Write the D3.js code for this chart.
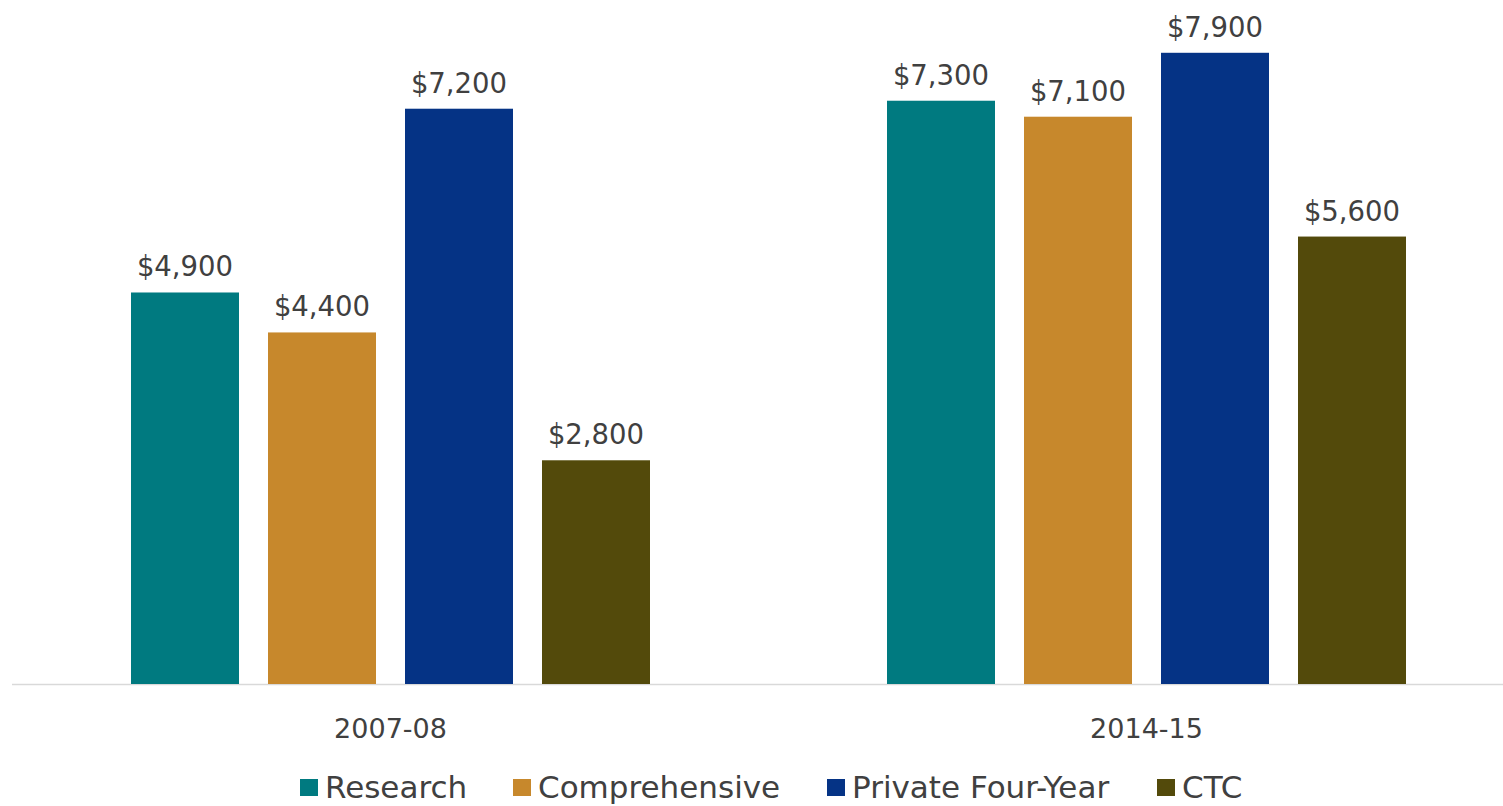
<!DOCTYPE html>
<html>
<head>
<meta charset="utf-8">
<script src="https://cdn.jsdelivr.net/npm/d3@7"></script>
<style>
  html, body { margin: 0; padding: 0; background: #fff; }
  svg { display: block; }
  text { font-family: "DejaVu Sans", sans-serif; fill: #404040; }
</style>
</head>
<body>
<svg id="chart" width="1503" height="806"></svg>
<script>
const categories = ["2007-08", "2014-15"];
const seriesNames = ["Research", "Comprehensive", "Private Four-Year", "CTC"];
const seriesColors = ["#007A80", "#C7882C", "#053385", "#534A0B"];
const valuesResearch = [4900, 7300];
const valuesComprehensive = [4400, 7100];
const valuesPrivate = [7200, 7900];
const valuesCTC = [2800, 5600];
const seriesValues = [valuesResearch, valuesComprehensive, valuesPrivate, valuesCTC];

const svg = d3.select("#chart");
const baseY = 684;

const x0 = d3.scaleBand().domain(categories).range([12.5, 1524.5]).padding(0);
const x1 = d3.scaleBand().domain(seriesNames).range([118.5, 637.5])
  .paddingInner(29 / 137).paddingOuter(0);
const y = d3.scaleLinear().domain([0, 8000]).range([baseY, baseY - 8000 * 0.0799]);

const fmt = v => "$" + d3.format(",")(v);

// axis line
svg.append("line")
  .attr("x1", 12).attr("x2", 1503)
  .attr("y1", baseY + 0.5).attr("y2", baseY + 0.5)
  .attr("stroke", "#d9d9d9").attr("stroke-width", 1.5);

const groups = svg.selectAll("g.cat").data(categories).enter().append("g")
  .attr("class", "cat")
  .attr("transform", d => `translate(${x0(d)},0)`);

groups.each(function(cat, ci) {
  const g = d3.select(this);
  seriesNames.forEach((s, si) => {
    const v = seriesValues[si][ci];
    g.append("rect")
      .attr("x", x1(s)).attr("width", x1.bandwidth())
      .attr("y", y(v)).attr("height", baseY - y(v))
      .attr("fill", seriesColors[si]);
    g.append("text")
      .attr("x", x1(s) + x1.bandwidth() / 2)
      .attr("y", y(v) - 16)
      .attr("text-anchor", "middle")
      .attr("font-size", 27.5)
      .text(fmt(v));
  });
});

// category axis labels
svg.selectAll("text.cat").data(categories).enter().append("text")
  .attr("class", "cat")
  .attr("x", d => x0(d) + x0.bandwidth() / 2)
  .attr("y", 738)
  .attr("text-anchor", "middle")
  .attr("font-size", 27)
  .text(d => d);

// legend
const legendX = [300, 513, 827, 1157];
const lg = svg.append("g");
seriesNames.forEach((s, i) => {
  lg.append("rect").attr("x", legendX[i]).attr("y", 779)
    .attr("width", 18).attr("height", 17).attr("fill", seriesColors[i]);
  lg.append("text").attr("x", legendX[i] + 25).attr("y", 798)
    .attr("font-size", 31).text(s);
});
</script>
</body>
</html>
